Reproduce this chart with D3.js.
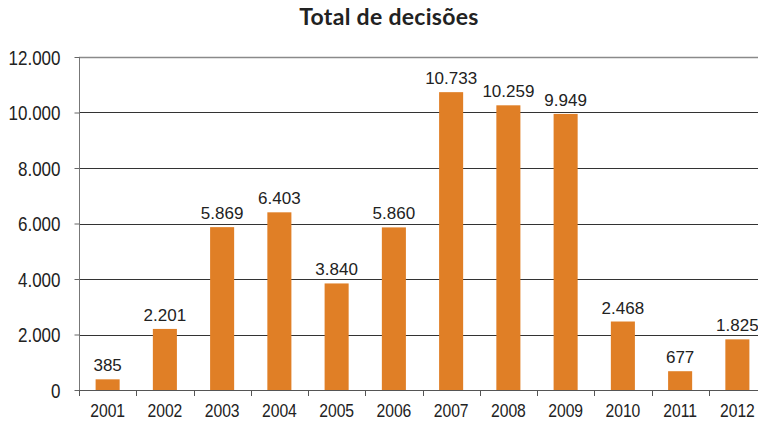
<!DOCTYPE html>
<html>
<head>
<meta charset="utf-8">
<script src="https://cdn.jsdelivr.net/npm/d3@7"></script>
<style>
body{margin:0;background:#fff;}
svg text{font-family:"Liberation Sans",Arial,sans-serif;fill:#222;}
</style>
</head>
<body>
<div class="visHolder"></div>
<script>
const years=["2001","2002","2003","2004","2005","2006","2007","2008","2009","2010","2011","2012"];
const decisoes=[385,2201,5869,6403,3840,5860,10733,10259,9949,2468,677,1825];
const yTicks=[0,2000,4000,6000,8000,10000,12000];

const w=758,h=429;
const padL=79,padR=766,padT=57,padB=390;
const narrow=0.85; // axis labels look like a narrow face
const fmt=d3.format(",");
const pt=v=>fmt(v).replace(/,/g,".");

const svg=d3.select(".visHolder")
.append("svg")
.attr("width",w)
.attr("height",h);

const x=d3.scaleBand().domain(years).range([padL,padR]).paddingInner(0.58).paddingOuter(0.29);
const band=d3.scaleBand().domain(years).range([padL,padR]);
const y=d3.scaleLinear().domain([0,12000]).range([padB,padT]);

svg.append("text")
.attr("x",389)
.attr("y",25)
.attr("text-anchor","middle")
.style("font-family","Lato, sans-serif")
.style("font-weight","bold")
.style("font-size","23px")
.style("letter-spacing","0.3px")
.text("Total de decisões");

// gridlines
svg.append("g")
.selectAll("line")
.data(yTicks.filter(d=>d>0))
.enter()
.append("line")
.attr("x1",padL)
.attr("x2",w)
.attr("y1",d=>Math.round(y(d))+0.5)
.attr("y2",d=>Math.round(y(d))+0.5)
.attr("stroke",(d)=>d===12000?"#8a8a8a":"#333")
.attr("stroke-width",(d)=>d===12000?1.5:1);

svg.selectAll("rect")
.data(decisoes)
.enter()
.append("rect")
.attr("x",(d,i)=>x(years[i]))
.attr("y",d=>y(d))
.attr("width",x.bandwidth())
.attr("height",d=>padB-y(d))
.attr("fill","#E07F26");

const yAxis=d3.axisLeft(y).tickValues(yTicks).tickSize(5).tickFormat(pt);
const gy=svg.append("g")
.attr("transform","translate("+(padL+0.5)+",0)")
.call(yAxis);
gy.select(".domain").attr("stroke","#777").attr("d","M0,"+padT+"V"+padB);
gy.selectAll(".tick line").attr("stroke","#666");
gy.selectAll(".tick text")
.attr("x",0).attr("dy","0.36em")
.attr("transform","translate(-19,0) scale("+narrow+",1)")
.style("font-family","'Liberation Sans', Arial, sans-serif")
.style("font-size","20px").style("fill","#222");

// x axis with ticks between categories
const gx=svg.append("g");
gx.append("line")
.attr("x1",padL).attr("x2",w)
.attr("y1",padB+0.5).attr("y2",padB+0.5)
.attr("stroke","#555");
gx.selectAll(".sep")
.data(years)
.enter()
.append("line")
.attr("class","sep")
.attr("x1",d=>Math.round(band(d))+0.5)
.attr("x2",d=>Math.round(band(d))+0.5)
.attr("y1",padB)
.attr("y2",padB+6)
.attr("stroke","#555");
gx.selectAll(".lab")
.data(years)
.enter()
.append("text")
.attr("class","lab")
.attr("transform",d=>"translate("+(band(d)+band.bandwidth()/2)+","+(padB+27)+") scale("+narrow+",1)")
.attr("text-anchor","middle")
.style("font-size","18.5px")
.text(d=>d);

svg.selectAll(".val")
.data(decisoes)
.enter()
.append("text")
.attr("class","val")
.attr("x",(d,i)=>x(years[i])+x.bandwidth()/2)
.attr("y",d=>y(d)-8)
.attr("text-anchor","middle")
.style("font-size","17px")
.text(d=>pt(d));
</script>
</body>
</html>
